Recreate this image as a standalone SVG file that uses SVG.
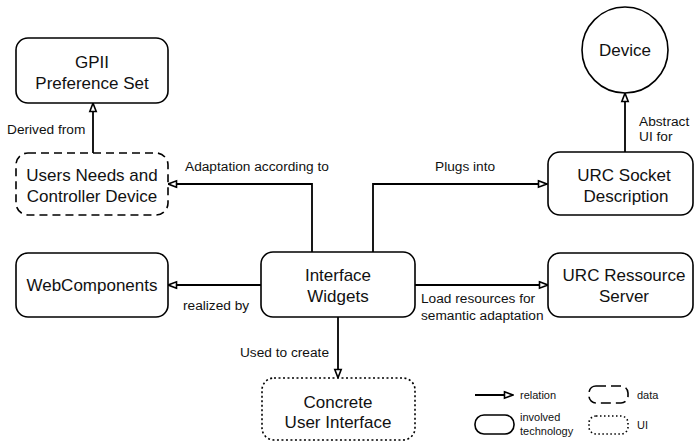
<svg xmlns="http://www.w3.org/2000/svg" width="695" height="441" viewBox="0 0 695 441">
<defs>
<marker id="arr" viewBox="0 0 10 10" refX="9.5" refY="5" markerWidth="11" markerHeight="10" markerUnits="userSpaceOnUse" orient="auto">
<path d="M1,1.8 L9.3,5 L1,8.2 Z" fill="#fff" stroke="#000" stroke-width="1.6"/>
</marker>
</defs>
<style>
.box{fill:#fff;stroke:#000;stroke-width:1.6}
.dash{stroke-dasharray:8 5}
.dot{stroke-dasharray:2 2.5}
.n{font-family:"Liberation Sans",Arial,sans-serif;font-size:17px;text-anchor:middle;fill:#111}
.l{font-family:"Liberation Sans",Arial,sans-serif;font-size:13.7px;fill:#111}
.g{font-family:"Liberation Sans",Arial,sans-serif;font-size:11px;fill:#111}
.c{fill:none;stroke:#000;stroke-width:1.8;marker-end:url(#arr)}
</style>
<rect width="695" height="441" fill="#fff"/>
<g id="connectors">
<path class="c" d="M93,153 V103"/>
<path class="c" d="M312,252 V184 H168"/>
<path class="c" d="M373,252 V184 H547"/>
<path class="c" d="M625,152 V93"/>
<path class="c" d="M261,285 H168"/>
<path class="c" d="M415,285 H548"/>
<path class="c" d="M338,317 V378"/>
<text class="l" x="7" y="134">Derived from</text>
<text class="l" x="185" y="171">Adaptation according to</text>
<text class="l" x="435" y="171">Plugs into</text>
<text class="l" x="639" y="126">Abstract</text>
<text class="l" x="639" y="141">UI for</text>
<text class="l" x="183" y="310">realized by</text>
<text class="l" x="421" y="303">Load resources for</text>
<text class="l" x="421" y="320">semantic adaptation</text>
<text class="l" x="329" y="357" text-anchor="end">Used to create</text>
</g>
<g id="gpii">
<rect class="box" x="16" y="38" width="152" height="65" rx="12"/>
<text class="n" x="92" y="68">GPII</text>
<text class="n" x="92" y="89">Preference Set</text>
</g>
<g id="users-needs">
<rect class="box dash" x="16" y="153" width="152" height="62" rx="12"/>
<text class="n" x="92" y="181">Users Needs and</text>
<text class="n" x="92" y="202">Controller Device</text>
</g>
<g id="device">
<circle class="box" cx="625" cy="50" r="43"/>
<text class="n" x="625" y="56">Device</text>
</g>
<g id="urc-socket">
<rect class="box" x="548" y="152" width="145" height="63" rx="12"/>
<text class="n" x="624" y="181">URC Socket</text>
<text class="n" x="626" y="202">Description</text>
</g>
<g id="webcomponents">
<rect class="box" x="16" y="253" width="152" height="64" rx="12"/>
<text class="n" x="92" y="291">WebComponents</text>
</g>
<g id="interface-widgets">
<rect class="box" x="261" y="252" width="154" height="65" rx="12"/>
<text class="n" x="338" y="281">Interface</text>
<text class="n" x="338" y="302">Widgets</text>
</g>
<g id="urc-server">
<rect class="box" x="548" y="253" width="145" height="64" rx="12"/>
<text class="n" x="624" y="281">URC Ressource</text>
<text class="n" x="624" y="302">Server</text>
</g>
<g id="concrete-ui">
<rect class="box dot" x="262" y="378" width="153" height="62" rx="12"/>
<text class="n" x="338" y="408">Concrete</text>
<text class="n" x="338" y="428">User Interface</text>
</g>
<g id="legend">
<path class="c" d="M475,395 H513" stroke-width="1.4"/>
<text class="g" x="520" y="399">relation</text>
<rect class="box dash" x="589" y="386" width="39" height="17" rx="7" style="stroke-dasharray:10 5"/>
<text class="g" x="637" y="399">data</text>
<rect class="box" x="475" y="415" width="39" height="19" rx="9"/>
<text class="g" x="520" y="421">involved</text>
<text class="g" x="520" y="435">technology</text>
<rect class="box dot" x="589" y="416" width="39" height="18" rx="7" style="stroke-dasharray:1.5 2.5"/>
<text class="g" x="637" y="429">UI</text>
</g>
</svg>
